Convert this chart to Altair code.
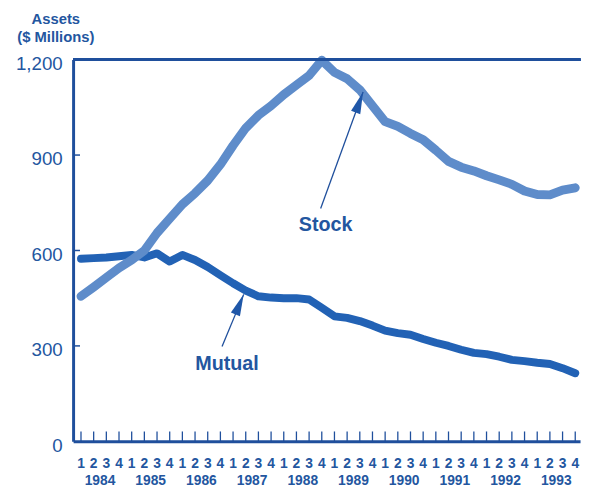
import altair as alt
import pandas as pd

# ---- data ----
years = [1984, 1985, 1986, 1987, 1988, 1989, 1990, 1991, 1992, 1993]
quarter_labels = ["1", "2", "3", "4"]

stock = [456, 485, 515, 545, 570, 600, 655, 700, 745, 780,
         820, 870, 930, 985, 1025, 1055, 1090, 1120, 1150, 1198,
         1160, 1140, 1105, 1055, 1005, 990, 968, 948, 915, 880,
         862, 850, 835, 822, 808, 787, 776, 775, 790, 797]

mutual = [574, 576, 578, 582, 586, 578, 591, 565, 586, 570,
          548, 522, 497, 474, 456, 452, 450, 450, 446, 420,
          393, 388, 378, 364, 348, 340, 335, 322, 310, 300,
          288, 278, 274, 266, 256, 252, 247, 243, 230, 214]

y_ticks = [0, 300, 600, 900, 1200]

# annotations (data coordinates: quarter index, assets)
ann_labels = ["Stock", "Mutual"]
ann_label_q = [19.30, 11.52]
ann_label_v = [679, 242]
ann_tail_q = [18.91, 11.13]
ann_tail_v = [732, 298]
ann_tip_q = [22.26, 12.84]
ann_tip_v = [1098, 462]
ann_angle = [20, 22.5]

# ---- tables ----
rows = []
for i, yr in enumerate(years):
    for j, ql in enumerate(quarter_labels):
        k = i * 4 + j
        rows.append({"q": k, "year": str(yr), "quarter": ql,
                     "Stock": stock[k], "Mutual": mutual[k]})
df = pd.DataFrame(rows)

ann = pd.DataFrame({"label": ann_labels, "lq": ann_label_q, "lv": ann_label_v,
                    "tq": ann_tail_q, "tv": ann_tail_v,
                    "hq": ann_tip_q, "hv": ann_tip_v, "ang": ann_angle})
yt = pd.DataFrame({"v": [v for v in y_ticks if 0 < v < 1200]})

W, H = 514, 387
BLUE = "#1f4f9c"
TXT = "#23569f"
FONT = "Liberation Sans"

xscale = alt.Scale(domain=[-0.623, 39.38], nice=False, zero=False)
yscale = alt.Scale(domain=[0, 1200], nice=False)

base = alt.Chart(df)

mut_line = base.mark_line(color="#2262b5", strokeWidth=8, strokeJoin="round",
                          strokeCap="round").encode(
    x=alt.X("q:Q", scale=xscale,
            axis=alt.Axis(labels=False, ticks=False, grid=False, title=None,
                          domainColor=BLUE, domainWidth=3)),
    y=alt.Y("Mutual:Q", scale=yscale,
            axis=alt.Axis(values=y_ticks, format=",d", ticks=False, grid=False,
                          domainColor=BLUE, domainWidth=3,
                          labelFont=FONT, labelFontSize=19, labelColor=TXT,
                          labelPadding=11, labelOffset=4,
                          title=["Assets", "($ Millions)"], titleAngle=0,
                          titleAlign="center", titleBaseline="top",
                          titleX=-18, titleY=-49, titleFont=FONT,
                          titleFontSize=15, titleFontWeight="bold",
                          titleColor=TXT, titleLineHeight=19)),
)

stock_line = base.mark_line(color="#5e8cca", strokeWidth=9, strokeJoin="round",
                            strokeCap="round").encode(
    x=alt.X("q:Q", scale=xscale),
    y=alt.Y("Stock:Q", scale=yscale),
)

top_border = base.mark_rule(color=BLUE, strokeWidth=3).encode(
    x=alt.value(0), x2=alt.value(W), y=alt.value(0))

x_ticks = base.mark_rule(color=BLUE, strokeWidth=1.3).encode(
    x=alt.X("q:Q", scale=xscale), y=alt.value(H), y2=alt.value(H - 10))

y_tick_marks = alt.Chart(yt).mark_rule(color=BLUE, strokeWidth=1.5).encode(
    y=alt.Y("v:Q", scale=yscale), x=alt.value(0), x2=alt.value(7))

q_labels = base.mark_text(font=FONT, fontSize=14, fontWeight="bold", color=TXT,
                          baseline="middle").encode(
    x=alt.X("q:Q", scale=xscale), y=alt.value(H + 23), text="quarter:N")

yr_labels = base.transform_aggregate(qm="mean(q)", groupby=["year"]).mark_text(
    font=FONT, fontSize=14, fontWeight="bold", color=TXT, baseline="middle").encode(
    x=alt.X("qm:Q", scale=xscale), y=alt.value(H + 40), text="year:N")

ann_base = alt.Chart(ann)
arrow_lines = ann_base.mark_rule(color=BLUE, strokeWidth=1.3).encode(
    x=alt.X("tq:Q", scale=xscale), y=alt.Y("tv:Q", scale=yscale),
    x2="hq:Q", y2="hv:Q")
arrow_heads = ann_base.mark_point(shape="M0,0L0.45,2L-0.45,2Z", filled=True,
                                  size=484, color="#1f57a8", opacity=1).encode(
    x=alt.X("hq:Q", scale=xscale), y=alt.Y("hv:Q", scale=yscale),
    angle=alt.Angle("ang:Q", scale=None))
ann_text = ann_base.mark_text(font=FONT, fontSize=20, fontWeight="bold",
                              color=TXT, baseline="middle").encode(
    x=alt.X("lq:Q", scale=xscale), y=alt.Y("lv:Q", scale=yscale), text="label:N")

chart = alt.layer(
    mut_line, stock_line, top_border, x_ticks, y_tick_marks,
    q_labels, yr_labels, arrow_lines, arrow_heads, ann_text
).properties(
    width=W, height=H,
    padding={"left": 66, "top": 49, "right": 4, "bottom": 46},
    autosize=alt.AutoSizeParams(type="none"),
    background="white",
).configure_view(stroke=None)

chart.save("out.html", embed_options={"renderer": "svg", "actions": False})
